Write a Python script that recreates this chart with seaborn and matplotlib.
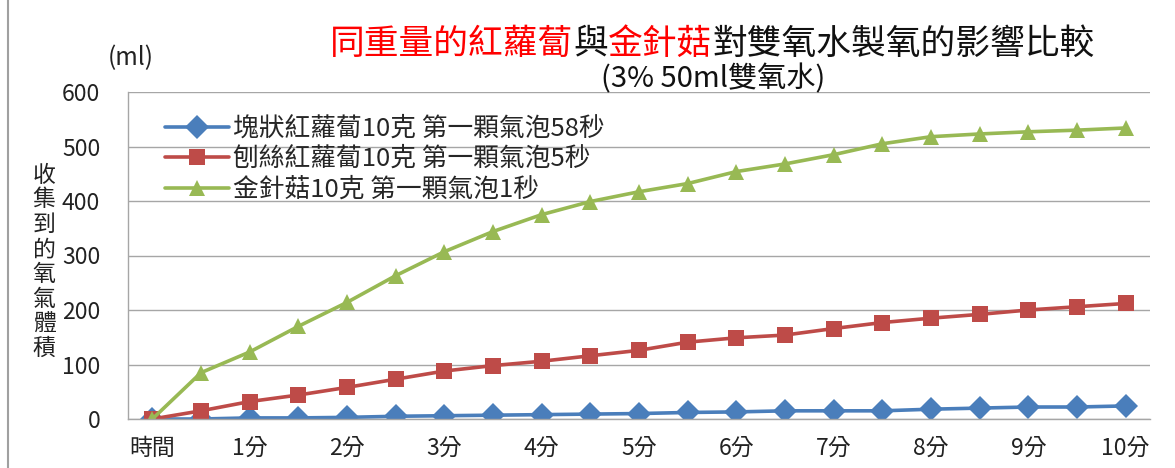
import matplotlib
matplotlib.use("Agg")
import matplotlib.pyplot as plt
import seaborn as sns
import pandas as pd
from matplotlib.offsetbox import TextArea, HPacker, AnchoredOffsetbox
from matplotlib.lines import Line2D

# half-minute readings, 0 to 10 minutes
step_labels = ["時間", "", "1分", "", "2分", "", "3分", "", "4分", "", "5分",
               "", "6分", "", "7分", "", "8分", "", "9分", "", "10分"]
series_names = ["塊狀紅蘿蔔10克 第一顆氣泡58秒",
                "刨絲紅蘿蔔10克 第一顆氣泡5秒",
                "金針菇10克 第一顆氣泡1秒"]
carrot_block = [0, 0, 2, 2, 3, 5, 6, 7, 8, 9, 10, 12, 13, 15, 15, 15, 18, 20, 22, 22, 24]
carrot_shred = [0, 15, 32, 44, 58, 73, 88, 98, 106, 116, 126, 141, 149, 154, 166, 177,
                185, 192, 200, 206, 212]
enoki = [0, 85, 123, 170, 214, 263, 307, 344, 375, 399, 417, 432, 454, 468, 485, 505,
         518, 523, 527, 530, 534]
line_colors = ["#4A7EBB", "#BE4B48", "#98B954"]

df = pd.DataFrame({
    "step": list(range(len(step_labels))) * 3,
    "volume": carrot_block + carrot_shred + enoki,
    "series": [s for s in series_names for _ in step_labels],
})

sns.set_theme(style="white")
plt.rcParams["font.family"] = ["Noto Sans CJK TC", "DejaVu Sans"]

fig = plt.figure(figsize=(11.75, 4.68), dpi=100)
ax = fig.add_axes([128 / 1175, 49 / 468, 1022 / 1175, 327 / 468])

sns.lineplot(data=df, x="step", y="volume", hue="series", style="series",
             hue_order=series_names, style_order=series_names,
             palette=line_colors, markers=["D", "s", "^"], dashes=False,
             linewidth=2.6, markersize=12, markeredgewidth=0, ax=ax)

ax.set_xlim(-0.5, len(step_labels) - 0.5)
ax.set_ylim(0, 600)
ax.set_yticks(range(0, 601, 100))
ax.set_xticks(range(0, len(step_labels), 2))
ax.set_xticklabels([step_labels[i] for i in range(0, len(step_labels), 2)])
ax.set_xlabel("")
ax.set_ylabel("")
ax.tick_params(axis="both", length=0, labelsize=16.5, colors="#222222")
ax.tick_params(axis="y", pad=20)
ax.tick_params(axis="x", pad=13)
ax.yaxis.grid(True, color="#A6A6A6", linewidth=1)
ax.set_axisbelow(True)
for side in ["top", "right"]:
    ax.spines[side].set_visible(False)
for side in ["left", "bottom"]:
    ax.spines[side].set_color("#A6A6A6")
    ax.spines[side].set_linewidth(1)

handles, labels = ax.get_legend_handles_labels()
ax.legend(handles, labels, loc="upper left", bbox_to_anchor=(0.036, 0.928),
          frameon=False, fontsize=18.5, handlelength=2.5, handletextpad=0.15,
          labelspacing=0.18, borderpad=0, borderaxespad=0)

# two-colour title
title_parts = [("同重量的紅蘿蔔", "#FF0000"), ("與", "#111111"),
               ("金針菇", "#FF0000"), ("對雙氧水製氧的影響比較", "#111111")]
boxes = [TextArea(t, textprops=dict(color=c, fontsize=25)) for t, c in title_parts]
title_box = AnchoredOffsetbox(loc="center", child=HPacker(children=boxes, pad=0, sep=0),
                              frameon=False, pad=0, borderpad=0,
                              bbox_to_anchor=(712 / 1175, 1 - 44 / 468),
                              bbox_transform=fig.transFigure)
fig.add_artist(title_box)
fig.text(713 / 1175, 1 - 79 / 468, "(3% 50ml雙氧水)", fontsize=21,
         ha="center", va="center", color="#111111")

fig.text(131 / 1175, 1 - 58 / 468, "(ml)", fontsize=17.5, ha="center", va="center",
         color="#222222")
fig.text(44 / 1175, 1 - 262 / 468, "\n".join("收集到的氧氣體積"), fontsize=16.5,
         ha="center", va="center", linespacing=1.1, color="#222222")

fig.add_artist(Line2D([8 / 1175, 8 / 1175], [0, 1], transform=fig.transFigure,
                      color="#A0A0A0", linewidth=1.5))

fig.savefig("out.png", dpi=100)
